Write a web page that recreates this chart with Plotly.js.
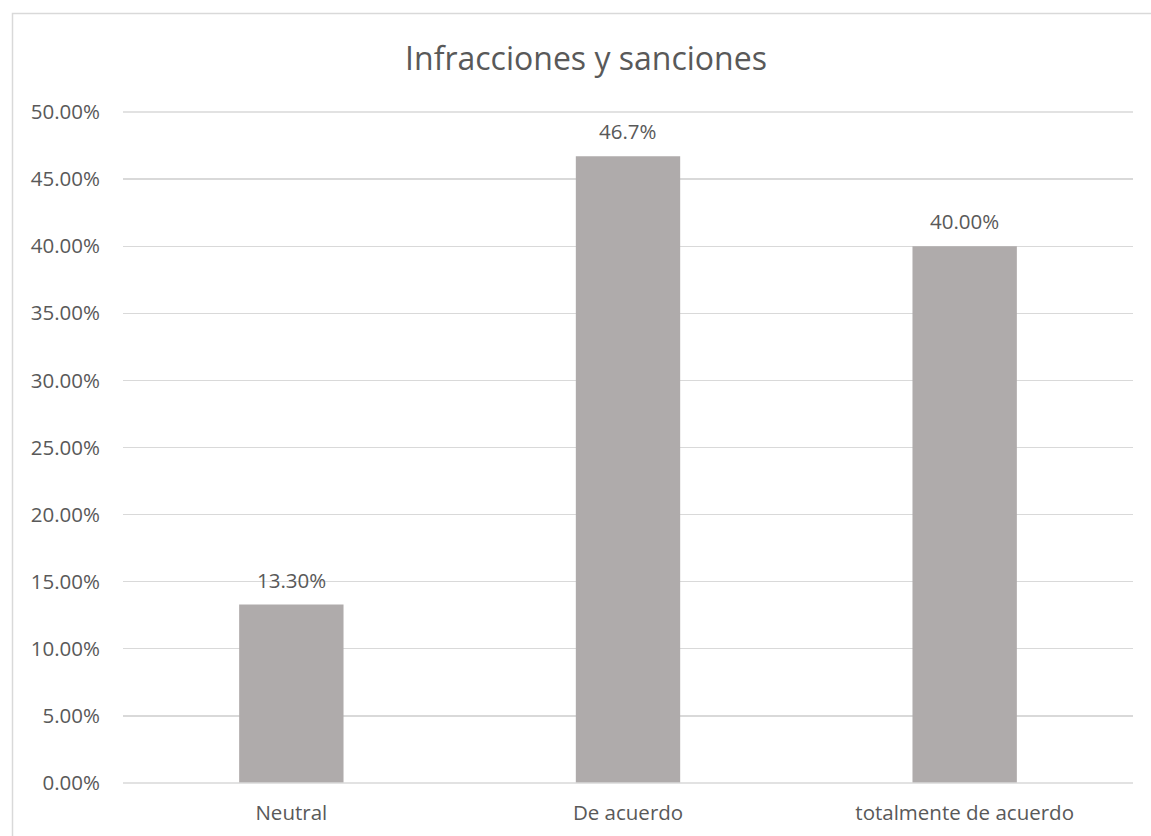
<!DOCTYPE html>
<html>
<head>
<meta charset="utf-8">
<script src="https://cdn.plot.ly/plotly-3.0.1.min.js"></script>
<style>
html,body{margin:0;padding:0;background:#fff;}
#chart{width:1151px;height:836px;}
</style>
</head>
<body>
<div id="chart"></div>
<script>
const categories = ["Neutral", "De acuerdo", "totalmente de acuerdo"];
const values = [0.133, 0.467, 0.40];
const labels = ["13.30%", "46.7%", "40.00%"];
const yTicks = [0, 0.05, 0.10, 0.15, 0.20, 0.25, 0.30, 0.35, 0.40, 0.45, 0.50];
const yTickText = ["0.00%", "5.00%", "10.00%", "15.00%", "20.00%", "25.00%", "30.00%", "35.00%", "40.00%", "45.00%", "50.00%"];

const FONT = "'Open Sans', 'Noto Sans', sans-serif";
const TXT = "#595959";
const GRID = "#D9D9D9";

const trace = {
  type: "bar",
  x: categories,
  y: values,
  marker: {color: "#AFABAB"},
  width: 0.31,
  hoverinfo: "none"
};

const annotations = categories.map((c, i) => ({
  x: c, y: values[i], xref: "x", yref: "y",
  text: labels[i], showarrow: false,
  yanchor: "bottom", yshift: 9,
  font: {family: FONT, size: 20.5, color: TXT}
}));

const layout = {
  width: 1151, height: 836,
  margin: {l: 123, r: 18, t: 112, b: 53},
  paper_bgcolor: "#fff", plot_bgcolor: "#fff",
  showlegend: false,
  title: {
    text: "Infracciones y sanciones",
    font: {family: FONT, size: 32, color: TXT},
    x: 586 / 1151, xanchor: "center", xref: "container",
    y: 1 - 59 / 836, yanchor: "middle", yref: "container"
  },
  xaxis: {
    type: "category",
    showgrid: false, zeroline: false, showline: false,
    ticks: "", ticklabelstandoff: 15,
    tickfont: {family: FONT, size: 20.5, color: TXT},
    fixedrange: true
  },
  yaxis: {
    range: [0, 0.5],
    tickvals: yTicks, ticktext: yTickText,
    showgrid: true, gridcolor: GRID, gridwidth: 1.3,
    zeroline: false, showline: false,
    ticks: "", ticklabelstandoff: 22,
    tickfont: {family: FONT, size: 20.5, color: TXT},
    fixedrange: true
  },
  annotations: annotations,
  shapes: [
    {type: "line", xref: "x domain", yref: "y domain",
     x0: 0, x1: 1, y0: 0, y1: 0, line: {color: GRID, width: 1.3}, layer: "above"},
    {type: "line", xref: "x domain", yref: "y domain",
     x0: 0, x1: 1, y0: 1, y1: 1, line: {color: GRID, width: 1.3}, layer: "below"},
    {type: "rect", xref: "paper", yref: "paper",
     x0: (12.5 - 123) / 1010, x1: 1.1, y0: -0.2, y1: (783 - 13.5) / 671,
     line: {color: GRID, width: 1.5}, fillcolor: "rgba(0,0,0,0)", layer: "below"}
  ],
  bargap: 0.69
};

Plotly.newPlot("chart", [trace], layout, {displayModeBar: false, staticPlot: true});
</script>
</body>
</html>
